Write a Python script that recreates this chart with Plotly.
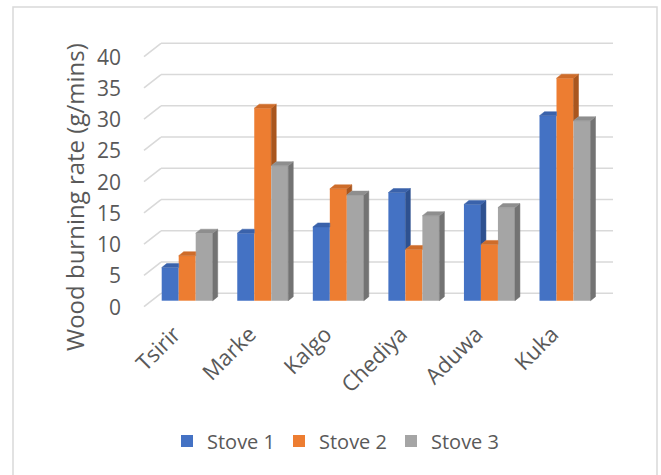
import plotly.graph_objects as go

# ---------------- data ----------------
categories = ["Tsirir", "Marke", "Kalgo", "Chediya", "Aduwa", "Kuka"]
stove1 = [5.3, 10.8, 11.8, 17.3, 15.4, 29.6]
stove2 = [7.2, 30.8, 17.9, 8.2, 9.0, 35.6]
stove3 = [10.8, 21.6, 16.9, 13.6, 14.9, 28.8]
series_names = ["Stove 1", "Stove 2", "Stove 3"]
y_ticks = [0, 5, 10, 15, 20, 25, 30, 35, 40]
y_title = "Wood burning rate (g/mins)"

# ---------------- styles ----------------
FRONT = ["#4472C4", "#ED7D31", "#A5A5A5"]
TOP = ["#3A62AB", "#CE6C2A", "#8E8E8E"]
SIDE = ["#2E5190", "#A9561E", "#737373"]
GRID = "#D9D9D9"
TXT = "#595959"
FONT = "Open Sans"

W, H = 661, 475
PL, PR, PT, PB = 128, 625, 35, 316          # plot area in pixels
SX = 75.56                                   # px per category
SY = 6.25                                    # px per value unit
CX0 = 187.2                                  # px of first group centre (bar front plane)
YB = 300.7                                   # px of value 0 (bar front plane)
LBL_DX, LBL_DY = -8.5, 6.0                   # label plane offset from bar front plane (px)
CAT_DX = -13.0                               # category label shift (px)
BACK_DX, BACK_DY = 8.5, -7.4                 # back wall offset from bar front plane (px)
DEP_DX, DEP_DY = 5.0, 4.0                    # bar depth (px)
BARGAP = 0.325

xr = [(PL - CX0) / SX, (PR - CX0) / SX]
yr = [(YB - PB) / SY, (YB - PT) / SY]
xr2 = [(PL - CX0 - CAT_DX) / SX, (PR - CX0 - CAT_DX) / SX]
yr2 = [(YB + LBL_DY - PB) / SY, (YB + LBL_DY - PT) / SY]

dx = DEP_DX / SX
dy = DEP_DY / SY
bw = (1 - BARGAP) / 3

fig = go.Figure()
series = [stove1, stove2, stove3]
idx = list(range(len(categories)))

for s, vals in enumerate(series):
    fig.add_trace(go.Bar(
        x=idx, y=vals, name=series_names[s],
        marker=dict(color=FRONT[s], line=dict(width=0)),
        hoverinfo="skip",
    ))

# side and top faces (pseudo 3D), derived from the data
for s, vals in enumerate(series):
    sx, sy, tx, ty = [], [], [], []
    for c, h in enumerate(vals):
        L = c + (s - 1) * bw - bw / 2
        R = L + bw
        hn = series[s + 1][c] if s < 2 else 0.0
        if h > hn:
            sx += [R, R, R + dx, R + dx, R, None]
            sy += [hn, h, h + dy, hn + dy, hn, None]
            tx += [L, R, R + dx, L + dx, L, None]
            ty += [h, h, h + dy, h + dy, h, None]
        else:
            tx += [L, R, R, L + dx, L, None]
            ty += [h, h, h + dy, h + dy, h, None]
    fig.add_trace(go.Scatter(x=sx, y=sy, mode="lines", fill="toself",
                             fillcolor=SIDE[s], line=dict(width=0.5, color=SIDE[s]),
                             hoverinfo="skip", showlegend=False))
    fig.add_trace(go.Scatter(x=tx, y=ty, mode="lines", fill="toself",
                             fillcolor=TOP[s], line=dict(width=0.5, color=TOP[s]),
                             hoverinfo="skip", showlegend=False))

# invisible trace carrying the label-plane category axis
fig.add_trace(go.Scatter(x=idx, y=[0] * len(idx), xaxis="x2", yaxis="y2",
                         mode="markers", marker=dict(opacity=0),
                         hoverinfo="skip", showlegend=False))

pw, ph = PR - PL, PB - PT

# back-wall gridlines with slanted left part
shapes = []
x_left_lbl = (144 - CX0) / SX
x_back = x_left_lbl + (BACK_DX - LBL_DX) / SX
x_right = (613 - CX0) / SX
annotations = []
for v in y_ticks:
    y_lbl = v - LBL_DY / SY
    y_back = v - BACK_DY / SY
    shapes.append(dict(type="line", xref="x", yref="y", layer="below",
                       x0=x_left_lbl, y0=y_lbl, x1=x_back, y1=y_back,
                       line=dict(color=GRID, width=1.6)))
    shapes.append(dict(type="line", xref="x", yref="y", layer="below",
                       x0=x_back, y0=y_back, x1=x_right, y1=y_back,
                       line=dict(color=GRID, width=1.6)))
    # value-axis tick label in the label plane
    annotations.append(dict(text=str(v), xref="paper", yref="y",
                            x=(123 - PL) / pw, y=y_lbl, xanchor="right", yanchor="middle",
                            showarrow=False, font=dict(size=21, color=TXT, family=FONT)))

# axis title
annotations.append(dict(text=y_title, xref="paper", yref="paper",
                        x=(75 - PL) / pw, y=(PB - 197) / ph, xanchor="center", yanchor="middle",
                        textangle=-90, showarrow=False,
                        font=dict(size=24, color=TXT, family=FONT)))

# outer chart border
shapes.append(dict(type="rect", xref="paper", yref="paper", layer="below",
                   x0=(13 - PL) / pw, x1=(657 - PL) / pw,
                   y0=(PB - 490) / ph, y1=(PB - 7) / ph,
                   line=dict(color=GRID, width=1.5), fillcolor="rgba(0,0,0,0)"))

fig.update_layout(
    width=W, height=H, autosize=False,
    margin=dict(l=PL, r=W - PR, t=PT, b=H - PB, pad=0),
    paper_bgcolor="white", plot_bgcolor="white",
    barmode="group", bargap=BARGAP, bargroupgap=0,
    font=dict(family=FONT, color=TXT),
    shapes=shapes, annotations=annotations,
    showlegend=True,
    legend=dict(orientation="h", x=(335 - PL) / pw, xanchor="center",
                y=(PB - 441) / ph, yanchor="middle",
                font=dict(size=20, color=TXT, family=FONT),
                entrywidth=67, entrywidthmode="pixels", traceorder="normal"),
    xaxis=dict(range=xr, showgrid=False, zeroline=False, showticklabels=False,
               showline=False, ticks="", fixedrange=True),
    yaxis=dict(range=yr, showgrid=False, zeroline=False, showticklabels=False,
               showline=False, ticks="", fixedrange=True),
    xaxis2=dict(range=xr2, overlaying="x", anchor="y2", showgrid=False, zeroline=False,
                showline=False, ticks="", tickmode="array", tickvals=idx,
                ticktext=categories, tickangle=-45,
                tickfont=dict(size=22, color=TXT, family=FONT)),
    yaxis2=dict(range=yr2, overlaying="y", anchor="x2", side="left", showgrid=False,
                zeroline=False, showline=False, showticklabels=False, ticks=""),
)

fig.write_html("out.html")
